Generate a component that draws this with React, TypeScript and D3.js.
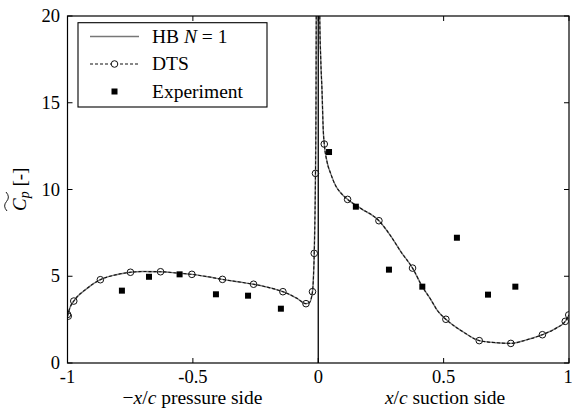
import React from 'react';
import * as d3 from 'd3';

// ---- data ----
const xTicks = [-1, -0.5, 0, 0.5, 1];
const xTickLabels = ['-1', '-0.5', '0', '0.5', '1'];
const yTicks = [0, 5, 10, 15, 20];
const yTickLabels = ['0', '5', '10', '15', '20'];

// HB N=1 curve (pressure side plotted at -x/c, then suction side)
const hbX = [
  -1, -0.99, -0.975, -0.922, -0.869, -0.811, -0.749, -0.7, -0.629, -0.56, -0.504, -0.44, -0.382,
  -0.32, -0.258, -0.2, -0.141, -0.085, -0.049, -0.035, -0.023, -0.019, -0.016, -0.013, -0.011,
  -0.009, -0.008, -0.007,
  0.004, 0.006, 0.01, 0.015, 0.02, 0.024, 0.035, 0.05, 0.07, 0.09, 0.117, 0.1675, 0.242, 0.29,
  0.33, 0.376, 0.415, 0.45, 0.474, 0.509, 0.577, 0.642, 0.712, 0.768, 0.83, 0.894, 0.95, 0.985, 1.0,
];
const hbY = [
  2.7, 3.2, 3.57, 4.3, 4.8, 5.07, 5.23, 5.27, 5.26, 5.18, 5.11, 4.97, 4.82,
  4.68, 4.54, 4.36, 4.11, 3.73, 3.42, 3.48, 4.11, 5.0, 6.32, 8.5, 10.93,
  15, 20, 24,
  24, 20, 17.5, 15.7, 13.4, 12.62, 11.6, 10.9, 10.2, 9.8, 9.43, 8.93, 8.2, 7.3,
  6.4, 5.47, 4.4, 3.63, 3.05, 2.52, 1.8, 1.29, 1.17, 1.13, 1.33, 1.63, 2.02, 2.4, 2.77,
];

// DTS markers
const dtsX = [
  -1, -0.997, -0.975, -0.869, -0.749, -0.629, -0.504, -0.382, -0.258, -0.141, -0.049, -0.023,
  -0.016, -0.011, 0.024, 0.117, 0.242, 0.376, 0.509, 0.642, 0.768, 0.894, 0.985, 0.999,
];
const dtsY = [
  2.8, 2.7, 3.57, 4.8, 5.23, 5.26, 5.11, 4.82, 4.54, 4.11, 3.42, 4.11,
  6.32, 10.93, 12.62, 9.43, 8.2, 5.47, 2.52, 1.29, 1.13, 1.63, 2.4, 2.77,
];

// Experiment
const expX = [-0.783, -0.675, -0.553, -0.408, -0.28, -0.149, 0.043, 0.15, 0.282, 0.415, 0.553, 0.677, 0.786];
const expY = [4.17, 4.97, 5.11, 3.96, 3.88, 3.13, 12.16, 9.01, 5.38, 4.4, 7.22, 3.94, 4.4];

const W = 572;
const H = 414;
const L = 67.5, R = 569, T = 16, B = 363;
const ts = { fontFamily: '"Liberation Serif"' };

export default function App() {
  const x = d3.scaleLinear().domain([-1, 1]).range([L, R]);
  const y = d3.scaleLinear().domain([0, 20]).range([B, T]);
  const hbPts: [number, number][] = hbX.map((v, i) => [v, hbY[i]]);
  const line = d3
    .line<[number, number]>()
    .x((d) => x(d[0]))
    .y((d) => y(d[1]))
    .curve(d3.curveMonotoneX);
  const hbPath = line(hbPts) || '';
  const tick = 5;
  const fs = 18.5;

  return (
    <svg width={W} height={H} style={{ position: 'absolute', left: 0, top: 0, background: '#fff' }}>
      <defs>
        <clipPath id="plotclip">
          <rect x={L} y={T} width={R - L} height={B - T} />
        </clipPath>
      </defs>
      <rect x={0} y={0} width={W} height={H} fill="#fff" />

      {/* zero line */}
      <line x1={x(0)} x2={x(0)} y1={B} y2={T} stroke="#000" strokeWidth={1.3} />

      <g clipPath="url(#plotclip)">
        <path d={hbPath} fill="none" stroke="#777" strokeWidth={1.4} />
        <path d={hbPath} fill="none" stroke="#111" strokeWidth={1.1} strokeDasharray="3,2" />
        {dtsX.map((v, i) => (
          <circle key={'d' + i} cx={x(v)} cy={y(dtsY[i])} r={3.3} fill="none" stroke="#111" strokeWidth={1} />
        ))}
        {expX.map((v, i) => (
          <rect key={'e' + i} x={x(v) - 3} y={y(expY[i]) - 3} width={6} height={6} fill="#000" />
        ))}
      </g>

      {/* frame */}
      <rect x={L} y={T} width={R - L} height={B - T} fill="none" stroke="#000" strokeWidth={1.2} />

      {/* ticks */}
      {xTicks.map((t, i) => (
        <g key={'xt' + i}>
          <line x1={x(t)} x2={x(t)} y1={B} y2={B - tick} stroke="#000" strokeWidth={1} />
          <line x1={x(t)} x2={x(t)} y1={T} y2={T + tick} stroke="#000" strokeWidth={1} />
          <text x={i === xTicks.length - 1 ? x(t) - 1 : x(t)} y={383} textAnchor="middle" fontSize={fs} style={ts}>
            {xTickLabels[i]}
          </text>
        </g>
      ))}
      {yTicks.map((t, i) => (
        <g key={'yt' + i}>
          <line x1={L} x2={L + tick} y1={y(t)} y2={y(t)} stroke="#000" strokeWidth={1} />
          <line x1={R} x2={R - tick} y1={y(t)} y2={y(t)} stroke="#000" strokeWidth={1} />
          <text x={60} y={y(t) + 6} textAnchor="end" fontSize={fs} style={ts}>
            {yTickLabels[i]}
          </text>
        </g>
      ))}

      {/* axis titles */}
      <text x={192.5} y={404} textAnchor="middle" fontSize={19.5} style={ts}>
        <tspan>−</tspan>
        <tspan fontStyle="italic">x</tspan>
        <tspan>/</tspan>
        <tspan fontStyle="italic">c</tspan>
        <tspan> pressure side</tspan>
      </text>
      <text x={445} y={404} textAnchor="middle" fontSize={19.5} style={ts}>
        <tspan fontStyle="italic">x</tspan>
        <tspan>/</tspan>
        <tspan fontStyle="italic">c</tspan>
        <tspan> suction side</tspan>
      </text>

      <g transform="translate(26,190) rotate(-90)">
        <text x={-21} y={0} fontSize={19} style={ts}>
          <tspan fontStyle="italic">C</tspan>
          <tspan fontStyle="italic" fontSize={14} dy={3}>p</tspan>
          <tspan dy={-3}> [-]</tspan>
        </text>
        <path d="M -21 -19 Q -16 -23.5 -11.5 -19.5 T -2 -20" fill="none" stroke="#000" strokeWidth={0.9} />
      </g>

      {/* legend */}
      <rect x={78} y={22.7} width={189} height={84.3} fill="#fff" stroke="#000" strokeWidth={1.1} />
      <line x1={90} x2={139} y1={36.5} y2={36.5} stroke="#777" strokeWidth={1.4} />
      <text x={152} y={42.5} fontSize={19.5} style={ts}>
        <tspan>HB </tspan>
        <tspan fontStyle="italic">N</tspan>
        <tspan> = 1</tspan>
      </text>
      <line x1={90} x2={139} y1={64} y2={64} stroke="#111" strokeWidth={1.1} strokeDasharray="3,2" />
      <circle cx={114.5} cy={64} r={3.3} fill="#fff" stroke="#111" strokeWidth={1} />
      <text x={152} y={70} fontSize={19.5} style={ts}>DTS</text>
      <rect x={111.5} y={88.5} width={6} height={6} fill="#000" />
      <text x={152} y={97.5} fontSize={19.5} style={ts}>Experiment</text>
    </svg>
  );
}
